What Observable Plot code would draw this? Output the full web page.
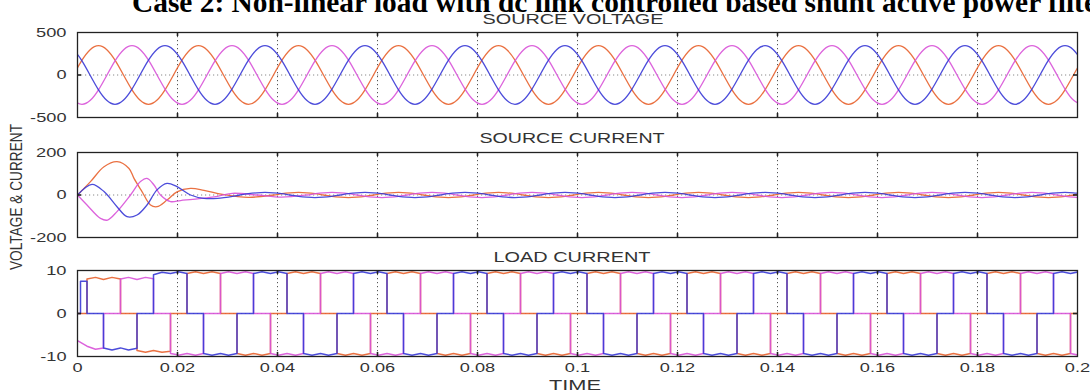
<!DOCTYPE html>
<html><head><meta charset="utf-8">
<script src="https://cdn.jsdelivr.net/npm/d3@7"></script>
<script src="https://cdn.jsdelivr.net/npm/@observablehq/plot@0.6"></script>
<style>
body{margin:0;background:#fff;}
#fig{position:relative;width:1090px;height:392px;overflow:hidden;background:#fff;}
#fig svg{position:absolute;left:0;}
</style></head><body><div id="fig"></div>
<script>
// ---------- data ----------
const PERIOD = 0.02;
const xTicks = [0,0.02,0.04,0.06,0.08,0.1,0.12,0.14,0.16,0.18,0.2];
const xTickLabels = ["0","0.02","0.04","0.06","0.08","0.1","0.12","0.14","0.16","0.18","0.2"];
const phaseNames = ["A","B","C"];
const phaseColors = ["#e8622e","#d852d8","#3838d6"];

// Source voltage: one cycle read at 30° steps from a rising zero crossing
const voltageCycle = [0,172,298,345,298,172,0,-172,-298,-345,-298,-172];
const voltageZeroStart = [-0.0008,-0.0141,-0.0075];
const voltageTicks = [-500,0,500];
const voltageLabels = ["-500","0","500"];

// Source current: start-up transient (time, value) per phase
const srcTransientA = [[0,0],[0.0026,63],[0.0053,133],[0.0079,157],[0.0103,125],[0.0113,78],[0.0129,16],[0.0146,-47],[0.0159,-55],[0.0179,-24],[0.0199,15],[0.0226,31],[0.0253,22],[0.029,3],[0.0342,-11]];
const srcTransientB = [[0,0],[0.0019,-47],[0.0046,-110],[0.006,-118],[0.0079,-78],[0.0106,0],[0.0126,63],[0.0139,78],[0.0153,47],[0.0166,0],[0.0186,-31],[0.0206,-26],[0.024,-18],[0.028,-6],[0.031,8],[0.0359,0],[0.0408,-10]];
const srcTransientC = [[0,0],[0.0029,50],[0.0053,16],[0.0079,-55],[0.0099,-102],[0.0119,-94],[0.0139,-47],[0.0159,24],[0.0179,55],[0.0199,39],[0.0226,0],[0.0253,-16],[0.028,-16]];
// steady state: one cycle at 30° steps from a rising zero crossing
const srcSteadyCycle = [0,6,10,12,10,6,0,-6,-10,-12,-10,-6];
const srcSteadyStart = [0.0392,0.0459,0.0325];
const currentTicks = [-200,0,200];
const currentLabels = ["-200","0","200"];

// Load current: first cycle (time, value) per phase
const loadFirstA = [[0,0],[0.0019,0],[0.0019,8.0],[0.0036,8.4],[0.0052,7.9],[0.0069,8.4],[0.0086,8.0],[0.0086,0],[0.0119,0],[0.0119,-8.6],[0.0136,-9.0],[0.0152,-8.6],[0.0169,-9.0],[0.0186,-8.8],[0.0186,0],[0.02,0]];
const loadFirstB = [[0,-6.3],[0.0019,-7.6],[0.0036,-8.3],[0.0052,-8.0],[0.0052,0],[0.0086,0],[0.0086,8.0],[0.0102,8.4],[0.0119,7.9],[0.0136,8.4],[0.0152,8.1],[0.0152,0],[0.0186,0],[0.0186,-9.3],[0.02,-9.6]];
const loadFirstC = [[0,0],[0.0006,0],[0.0006,7.5],[0.0019,7.5],[0.0019,0],[0.0052,0],[0.0052,-8.0],[0.0069,-8.5],[0.0086,-8.0],[0.0102,-8.5],[0.0119,-8.1],[0.0119,0],[0.0152,0],[0.0152,9.0],[0.0169,9.6],[0.0186,9.3],[0.02,9.65]];
// Load current: steady cycle (time within cycle, value) per phase
const loadCycleA = [[0,0],[0.0019,0],[0.0019,9.3],[0.0036,9.7],[0.0052,9.3],[0.0069,9.7],[0.0086,9.3],[0.0086,0],[0.0119,0],[0.0119,-9.3],[0.0136,-9.7],[0.0152,-9.3],[0.0169,-9.7],[0.0186,-9.3],[0.0186,0],[0.02,0]];
const loadCycleB = [[0,-9.65],[0.0002,-9.7],[0.0019,-9.3],[0.0036,-9.7],[0.0052,-9.3],[0.0052,0],[0.0086,0],[0.0086,9.3],[0.0102,9.7],[0.0119,9.3],[0.0136,9.7],[0.0152,9.3],[0.0152,0],[0.0186,0],[0.0186,-9.3],[0.02,-9.65]];
const loadCycleC = [[0,9.65],[0.0002,9.7],[0.0019,9.3],[0.0019,0],[0.0052,0],[0.0052,-9.3],[0.0069,-9.7],[0.0086,-9.3],[0.0102,-9.7],[0.0119,-9.3],[0.0119,0],[0.0152,0],[0.0152,9.3],[0.0169,9.7],[0.0186,9.3],[0.02,9.65]];
const loadTicks = [-10,0,10];
const loadLabels = ["-10","0","10"];

// ---------- build tables ----------
function tileCycle(values, start, step, end, phase) {
  const pts = [];
  for (let k = 0; start + k * step <= end + step; k++) pts.push({t: start + k * step, v: values[k % values.length], phase});
  return pts;
}
const step12 = PERIOD / 12;
const voltageData = phaseNames.map((p, i) => tileCycle(voltageCycle, voltageZeroStart[i], step12, 0.2, p));
const srcTransients = [srcTransientA, srcTransientB, srcTransientC];
const sourceData = phaseNames.map((p, i) => [
  ...srcTransients[i].map(([t, v]) => ({t, v, phase: p})),
  ...tileCycle(srcSteadyCycle, srcSteadyStart[i], step12, 0.2, p)
]);
const loadFirst = [loadFirstA, loadFirstB, loadFirstC];
const loadCycles = [loadCycleA, loadCycleB, loadCycleC];
const loadData = phaseNames.map((p, i) => {
  const pts = loadFirst[i].map(([t, v]) => ({t, v, phase: p}));
  for (let c = 1; c < 10; c++) loadCycles[i].forEach(([t, v]) => pts.push({t: t + c * PERIOD, v, phase: p}));
  return pts;
});

// ---------- drawing ----------
const fig = document.getElementById("fig");
const W = 1090, ML = 77, MR = 13;
const innerTicks = xTicks.slice(1, -1);

function panel({data, curve, sw, yDomain, yTicks, yLabels, top, height, mt, mb, showX}) {
  const frameH = height - mt - mb, frameW = W - ML - MR;
  const marks = [
    Plot.ruleX(innerTicks, {x: d => d, stroke: "#555", strokeDasharray: "1.2,2.8"}),
    Plot.ruleY([0], {y: d => d, stroke: "#888", strokeDasharray: "1.2,2.8"}),
    ...data.map((d, i) => Plot.line(d, {x: "t", y: "v", stroke: phaseColors[i], strokeWidth: sw, curve, clip: true, strokeOpacity: 0.9})),
    Plot.ruleX(innerTicks, {x: d => d, insetBottom: frameH - 4, stroke: "#222", strokeWidth: 1.6}),
    Plot.ruleX(innerTicks, {x: d => d, insetTop: frameH - 4, stroke: "#222", strokeWidth: 1.6}),
    Plot.ruleY([0], {y: d => d, insetRight: frameW - 4, stroke: "#222", strokeWidth: 1.6}),
    Plot.ruleY([0], {y: d => d, insetLeft: frameW - 4, stroke: "#222", strokeWidth: 1.6}),
    Plot.frame({stroke: "#222", strokeWidth: 1.3}),
    Plot.axisY({ticks: yTicks, tickFormat: d => yLabels[yTicks.indexOf(d)], tickSize: 0, tickPadding: 11, fontSize: 13, fill: "#333", label: null})
  ];
  if (showX) marks.push(Plot.axisX({ticks: xTicks, tickFormat: d => xTickLabels[xTicks.indexOf(d)], tickSize: 0, tickPadding: 6, fontSize: 13, fill: "#333", label: null}));
  const svg = Plot.plot({
    width: W, height, marginLeft: ML, marginRight: MR, marginTop: mt, marginBottom: mb,
    x: {domain: [0, 0.2], axis: showX ? undefined : null, label: null},
    y: {domain: yDomain, label: null},
    style: {fontFamily: "Liberation Sans, Arial, sans-serif", background: "transparent", overflow: "visible"},
    marks
  });
  svg.style.top = top + "px";
  fig.appendChild(svg);
  svg.querySelectorAll("text").forEach(t => {
    const w = t.getComputedTextLength();
    t.setAttribute("textLength", (w * 1.4).toFixed(1));
    t.setAttribute("lengthAdjust", "spacingAndGlyphs");
  });
}

panel({data: voltageData, curve: "natural", sw: 1.3, yDomain: [-500, 500], yTicks: voltageTicks, yLabels: voltageLabels, top: 20, height: 105, mt: 12, mb: 8, showX: false});
panel({data: sourceData, curve: "catmull-rom", sw: 1.3, yDomain: [-200, 200], yTicks: currentTicks, yLabels: currentLabels, top: 140, height: 105, mt: 12, mb: 8, showX: false});
panel({data: loadData, curve: "linear", sw: 1.5, yDomain: [-10, 10], yTicks: loadTicks, yLabels: loadLabels, top: 258, height: 134, mt: 12, mb: 36, showX: true});

// ---------- texts ----------
const NS = "http://www.w3.org/2000/svg";
const ov = document.createElementNS(NS, "svg");
ov.setAttribute("width", W); ov.setAttribute("height", 392);
ov.style.top = "0px"; ov.style.pointerEvents = "none";
fig.appendChild(ov);
function txt(s, attrs, len) {
  const t = document.createElementNS(NS, "text");
  for (const k in attrs) t.setAttribute(k, attrs[k]);
  t.textContent = s;
  ov.appendChild(t);
  if (len) { t.setAttribute("textLength", len); t.setAttribute("lengthAdjust", "spacingAndGlyphs"); }
  return t;
}
txt("Case 2: Non-linear load with dc link controlled based shunt active power filter",
  {x: 132, y: 12, "font-family": "Liberation Serif, Times New Roman, serif", "font-weight": "bold", "font-size": 29, fill: "#000"}, 978);
const sub = {"font-family": "Liberation Sans, Arial, sans-serif", "font-size": 14, fill: "#333", "text-anchor": "middle"};
txt("SOURCE VOLTAGE", {...sub, x: 573, y: 24}, 181);
txt("SOURCE CURRENT", {...sub, x: 572, y: 143}, 185);
txt("LOAD CURRENT", {...sub, x: 572, y: 262}, 157);
txt("TIME", {...sub, "font-size": 15, x: 575, y: 390}, 52);
txt("VOLTAGE & CURRENT", {"font-family": "Liberation Sans, Arial, sans-serif", "font-size": 12, fill: "#333", "text-anchor": "middle", transform: "translate(22,197) rotate(-90) scale(1,1.35)"}, 146);
</script></body></html>
